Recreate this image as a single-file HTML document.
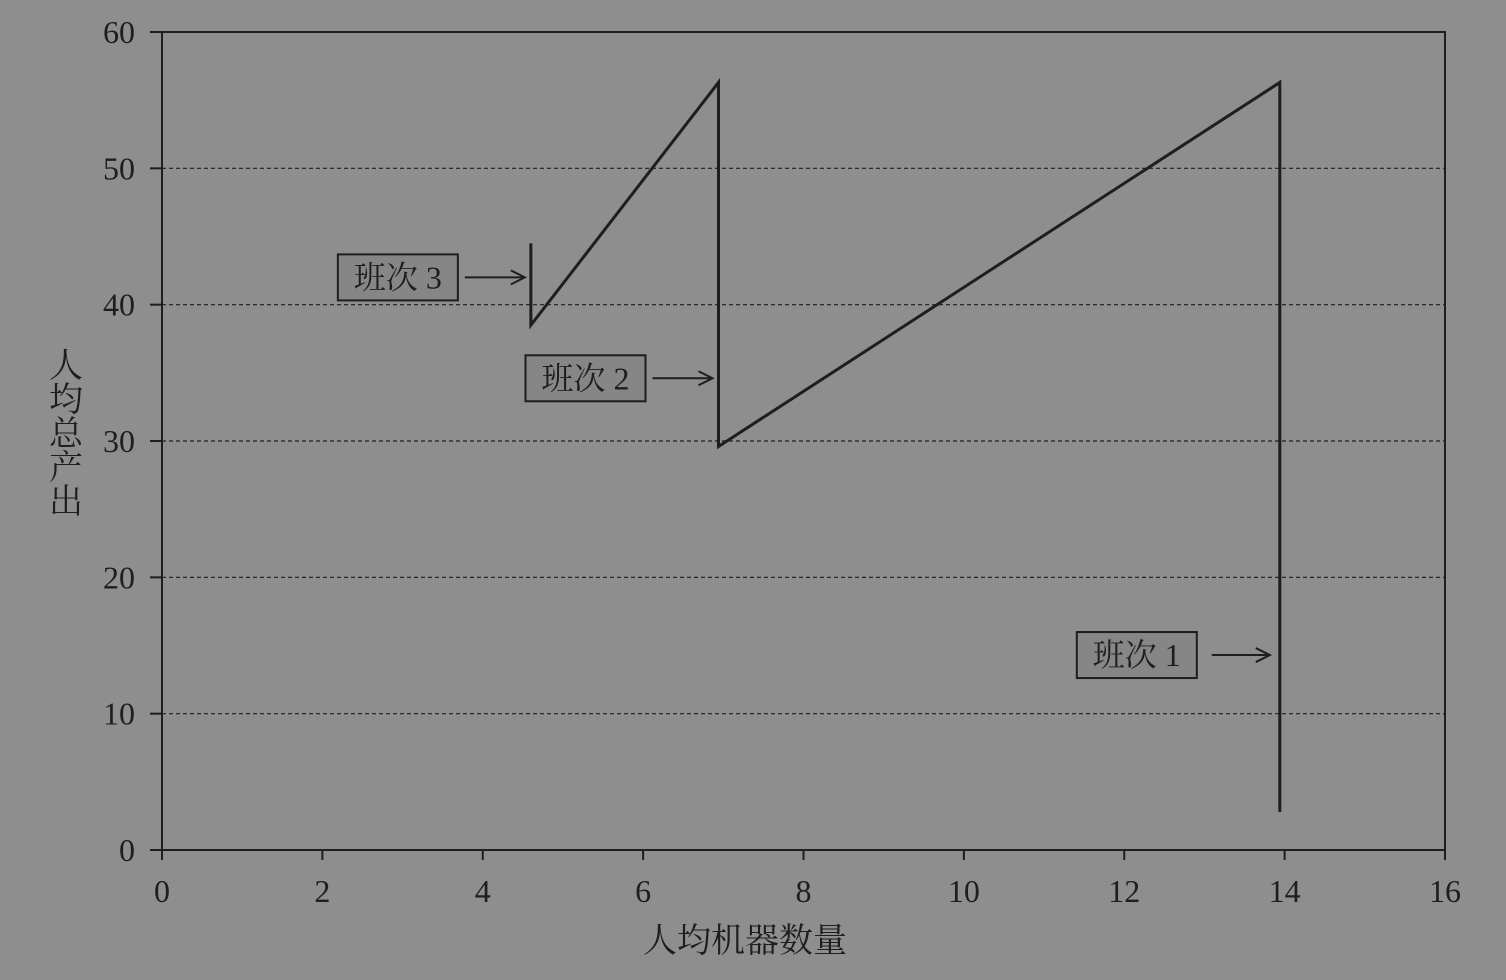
<!DOCTYPE html>
<html><head><meta charset="utf-8"><style>
html,body{margin:0;padding:0;background:#8e8e8f;}
svg{display:block;}
text{font-family:"Liberation Serif","Noto Serif CJK SC",serif;fill:#1e1e1e;}
</style></head><body>
<svg id="chart" width="1506" height="980" viewBox="0 0 1506 980">
<rect x="0" y="0" width="1506" height="980" fill="#8e8e8f"/>
<g id="grid"></g>
<rect x="162" y="32" width="1283" height="818" fill="none" stroke="#1e1e1e" stroke-width="2"/>
<g id="ticks"></g>
<polyline id="series" fill="none" stroke="#1e1e1e" stroke-width="3" stroke-linejoin="miter"/>
<g id="annos"></g>
<text x="745" y="952" font-size="34" text-anchor="middle">人均机器数量</text>
<text x="62" y="432" font-size="34" text-anchor="middle" style="writing-mode:vertical-rl;">人均总产出</text>
</svg>
<script>
const xTicks=[0,2,4,6,8,10,12,14,16];
const yTicks=[0,10,20,30,40,50,60];
const xVals=[4.6,4.6,6.94,6.94,13.94,13.94];
const yVals=[44.5,38.5,56.3,29.6,56.3,2.8];
const labels=["班次 3","班次 2","班次 1"];
const labelAt=[[4.6,42],[6.94,34.6],[13.94,14.3]];
const X=v=>162+v*(1283/16);
const Y=v=>850-v*(818/60);
const NS="http://www.w3.org/2000/svg";
const mk=(p,t,a)=>{const e=document.createElementNS(NS,t);for(const k in a)e.setAttribute(k,a[k]);p.appendChild(e);return e;};
const grid=document.getElementById('grid'),ticks=document.getElementById('ticks');
yTicks.forEach(v=>{
 if(v>0&&v<60){const l=mk(grid,'line',{x1:162,x2:1445,y1:Y(v),y2:Y(v),stroke:'#1e1e1e','stroke-width':1.2,'stroke-dasharray':'4 3'});
 
 }
 const t=mk(ticks,'line',{x1:150,x2:162,y1:Y(v),y2:Y(v),stroke:'#1e1e1e','stroke-width':2});
 
 
 const tx=mk(ticks,'text',{x:135,y:Y(v)+11,'font-size':32,'text-anchor':'end'});tx.textContent=v;
 
 
});
xTicks.forEach(v=>{
 const t=mk(ticks,'line',{x1:X(v),x2:X(v),y1:850,y2:860,stroke:'#1e1e1e','stroke-width':2});
 
 
 const tx=mk(ticks,'text',{x:X(v),y:902,'font-size':32,'text-anchor':'middle'});tx.textContent=v;
 
 
});
document.getElementById('series').setAttribute('points',xVals.map((x,i)=>X(x)+','+Y(yVals[i])).join(' '));
const annos=document.getElementById('annos');
labels.forEach((s,i)=>{
 const tx=X(labelAt[i][0])-(i==2?10:6), ty=Y(labelAt[i][1]);
 const bx=tx-187-(i==2?6:0), g=mk(annos,'g',{});
 
 
 mk(g,'rect',{x:bx,y:ty-23,width:120,height:46,fill:'#868687',stroke:'#1e1e1e','stroke-width':2});
 const t=mk(g,'text',{x:bx+60,y:ty+11,'font-size':32,'text-anchor':'middle'});t.textContent=s;
 mk(g,'line',{x1:bx+127+(i==2?8:0),x2:tx,y1:ty,y2:ty,stroke:'#1e1e1e','stroke-width':2});
 mk(g,'polyline',{points:(tx-14)+','+(ty-7)+' '+tx+','+ty+' '+(tx-14)+','+(ty+7),fill:'none',stroke:'#1e1e1e','stroke-width':2});
});
</script>
</body></html>
